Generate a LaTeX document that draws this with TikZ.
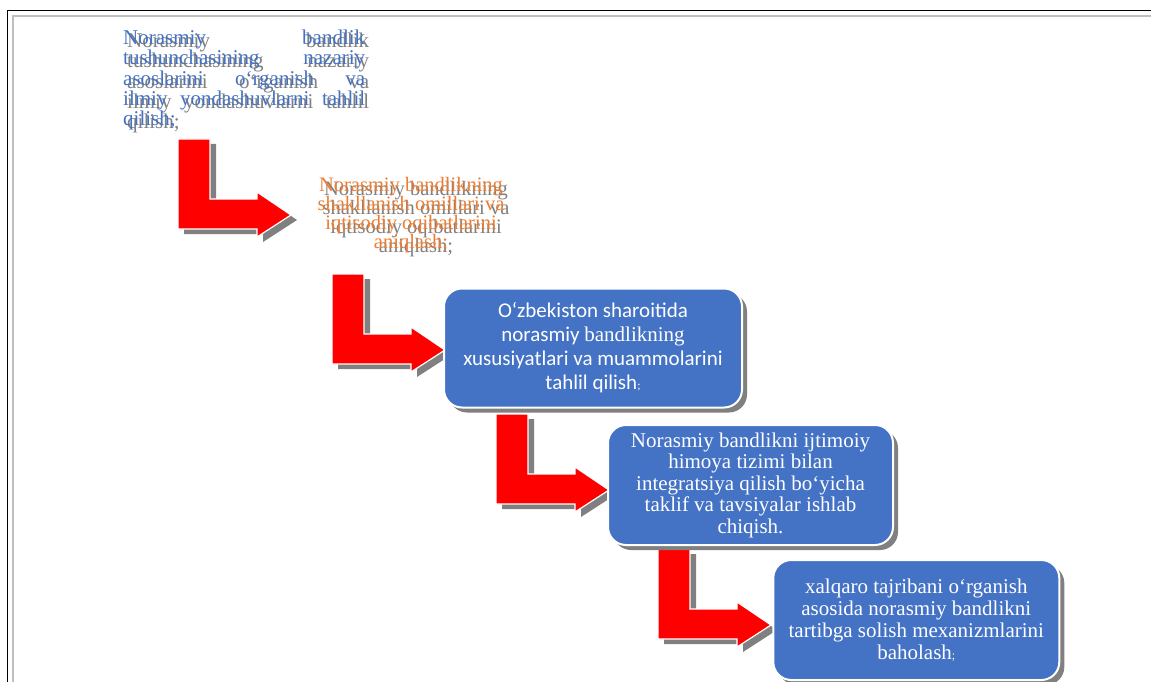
\documentclass[tikz,border=0pt]{standalone}
\usepackage{fontspec}
\setmainfont{Liberation Serif}
\newfontfamily\calibfont{Carlito}
\usetikzlibrary{shadows}
\definecolor{boxblue}{HTML}{4472C4}
\definecolor{txtorange}{HTML}{ED7D31}
\definecolor{shadowgray}{HTML}{808080}
\definecolor{framegray}{HTML}{BFBFBF}
\tikzset{
  bentarrow/.style={fill=red, draw=white, line width=1.2pt,
    drop shadow={shadow xshift=6pt, shadow yshift=-5pt, fill=shadowgray, opacity=1}},
  bluebox/.style={rectangle, rounded corners=18pt, fill=boxblue, draw=white, line width=2pt,
    text=white, align=center, inner sep=0pt,
    drop shadow={shadow xshift=5pt, shadow yshift=-5pt, fill=shadowgray, opacity=1}},
  toptext/.style={anchor=north west, inner sep=0pt, text width=242pt, align=left,
    font=\fontsize{21}{20.2}\selectfont},
  midtext/.style={inner sep=0pt, align=center, font=\fontsize{20.5}{18.5}\selectfont},
  frameouter/.style={draw=black, line width=1.3pt},
  frameinner/.style={draw=framegray, line width=1.8pt},
}
\newcommand\arrowpath{(0,0) -- (32,0) -- (32,60) -- (79,60) -- (79,53) -- (113,76) -- (79,98) -- (79,90) -- (0,90) -- cycle}
\newcommand\smallsemi{{\fontsize{12}{12}\selectfont;}}
\newcommand\toplines{\makebox[242pt][l]{Norasmiy\hfill bandlik}\\
\makebox[242pt][l]{tushunchasining\hfill nazariy}\\
\makebox[242pt][l]{asoslarini\hfill o‘rganish\hfill va}\\
\makebox[242pt][l]{ilmiy\hfill yondashuvlarni\hfill tahlil}\\
qilish;}
\newcommand\midlines{Norasmiy bandlikning\\ shakllanish omillari va\\ iqtisodiy oqibatlarini\\ aniqlash;}
\begin{document}
\begin{tikzpicture}[x=1pt,y=-1pt]
\useasboundingbox (0,0) rectangle (1151,682);
\fill[white] (0,0) rectangle (1151,682);
% page frame
\draw[frameouter] (7.5,682) -- (7.5,10.8) -- (1151,10.8);
\draw[frameinner] (13.3,682) -- (13.3,16) -- (1151,16);

% top text with shadow
\node[toptext, text=shadowgray] (t1s) at (127,33) {\toplines};
\node[toptext, text=boxblue] (t1) at (123,30) {\toplines};

% second text with shadow
\node[midtext, text=shadowgray] (t2s) at (416,219) {\midlines};
\node[midtext, text=txtorange] (t2) at (411,215) {\midlines};

% bent arrows
\begin{scope}[shift={(178,139)}] \path[bentarrow] \arrowpath; \end{scope}
\begin{scope}[shift={(332,274)}] \path[bentarrow] \arrowpath; \end{scope}
\begin{scope}[shift={(496,414)}] \path[bentarrow] \arrowpath; \end{scope}
\begin{scope}[shift={(658,549)}] \path[bentarrow] \arrowpath; \end{scope}

% boxes
\node[bluebox, minimum width=298pt, minimum height=119pt, font=\calibfont\fontsize{21}{24}\selectfont] (b1) at (593,348)
 {O‘zbekiston sharoitida\\ norasmiy {\rmfamily bandlikning}\\ xususiyatlari va muammolarini\\ tahlil qilish\smallsemi};
\node[bluebox, minimum width=285pt, minimum height=120pt, font=\fontsize{21}{21.5}\selectfont] (b2) at (750.5,485)
 {Norasmiy bandlikni ijtimoiy\\ himoya tizimi bilan\\ integratsiya qilish bo‘yicha\\ taklif va tavsiyalar ishlab\\ chiqish.};
\node[bluebox, minimum width=286pt, minimum height=120pt, font=\fontsize{21}{22}\selectfont] (b3) at (916.3,620)
 {xalqaro tajribani o‘rganish\\ asosida norasmiy bandlikni\\ tartibga solish mexanizmlarini\\ baholash\smallsemi};
\end{tikzpicture}
\end{document}
